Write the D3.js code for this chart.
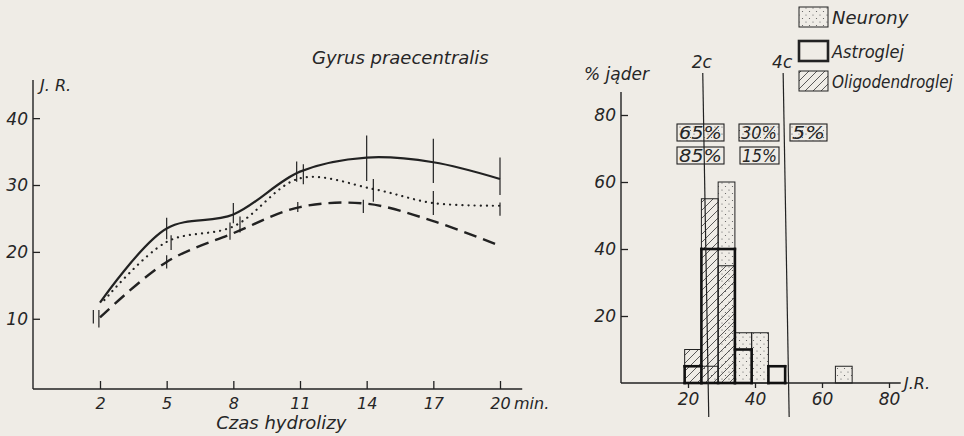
<!DOCTYPE html>
<html><head><meta charset="utf-8">
<script src="https://cdn.jsdelivr.net/npm/d3@7"></script>
<style>
html,body{margin:0;padding:0;background:#efece6;}
svg{display:block;}
text{font-family:"DejaVu Sans",sans-serif;font-style:italic;fill:#262626;}
</style></head>
<body>
<script>
// ---------- DATA ----------
const timeTicks = [2, 5, 8, 11, 14, 17, 20];
const jrTicksLeft = [10, 20, 30, 40];

const solidTime = [2, 5, 8, 11, 14, 17, 20];
const solidJR   = [12.4, 23.5, 25.6, 32.0, 34.1, 33.4, 30.9];
const dottedTime = [2.2, 5, 8, 11, 14.3, 17, 20];
const dottedJR   = [12.8, 21.5, 23.8, 31.0, 29.4, 27.3, 26.9];
const dashedTime = [2, 5, 8, 11, 14, 17, 20];
const dashedJR   = [10.2, 18.5, 22.8, 26.7, 27.2, 24.6, 20.9];

const solidErrTime = [5, 8, 10.85, 14, 17, 20];
const solidErrMid  = [23.5, 25.8, 32.0, 34.0, 33.6, 31.3];
const solidErrHalf = [1.6, 1.5, 1.5, 3.4, 3.3, 2.8];
const dottedErrTime = [1.7, 5.2, 8.3, 11.15, 14.3, 17, 20];
const dottedErrMid  = [10.3, 21.4, 24.1, 31.6, 29.2, 27.3, 26.4];
const dottedErrHalf = [1.0, 1.1, 1.2, 1.5, 1.7, 1.8, 1.0];
const dashedErrTime = [1.95, 5, 7.85, 10.9, 13.85];
const dashedErrMid  = [10.0, 18.5, 23.1, 26.7, 26.8];
const dashedErrHalf = [1.3, 1.0, 1.3, 0.75, 1.0];

// histogram (right panel)
const binStart = [19, 24, 29, 34, 39, 44, 49, 54, 59, 64];
const binWidth = 5;
const neurony = [0, 5, 60, 15, 15, 0, 0, 0, 0, 5];
const astroglej = [5, 40, 40, 10, 0, 5, 0, 0, 0, 0];
const oligo = [10, 55, 35, 0, 0, 0, 0, 0, 0, 0];
const jrTicksRight = [20, 40, 60, 80];
const pctTicks = [20, 40, 60, 80];
const ploidyLabels = ["2c", "4c"];
const ploidyJR = [25.3, 49.3];
const neuronPct = ["65%", "30%", "5%"];
const gliaPct = ["85%", "15%"];
const legendLabels = ["Neurony", "Astroglej", "Oligodendroglej"];

// ---------- LAYOUT ----------
const W = 964, H = 436;
const svg = d3.select("body").append("svg").attr("width", W).attr("height", H);
const ink = "#222";

const defs = svg.append("defs");
const dots = defs.append("pattern").attr("id", "dots").attr("patternUnits", "userSpaceOnUse")
  .attr("width", 7).attr("height", 7);
[[1,1],[4.5,4.5]].forEach(([cx,cy])=>{
  dots.append("circle").attr("cx",cx).attr("cy",cy).attr("r",0.6).attr("fill","#555");
});
const hatch = defs.append("pattern").attr("id", "hatch").attr("patternUnits", "userSpaceOnUse")
  .attr("width", 8).attr("height", 8);
hatch.append("path").attr("d", "M-2,2 L2,-2 M0,8 L8,0 M6,10 L10,6").attr("stroke", "#333").attr("stroke-width", 0.8);

// ---- Left panel ----
const x = d3.scaleLinear().domain([2, 20]).range([100, 500]);
const y = d3.scaleLinear().domain([-0.5, 45.7]).range([389, 80]);
const L = svg.append("g");

L.append("line").attr("x1", 33).attr("x2", 33).attr("y1", y(45.7)).attr("y2", y(-0.5)).attr("stroke", ink).attr("stroke-width", 1.4);
L.append("line").attr("x1", 33).attr("x2", x(21)).attr("y1", y(-0.5)).attr("y2", y(-0.5)).attr("stroke", ink).attr("stroke-width", 1.4);

const yAx = d3.axisRight(y).tickValues(jrTicksLeft).tickSize(7).tickFormat(d3.format("d"));
const gy = L.append("g").attr("transform", "translate(33,0)").call(yAx);
gy.select(".domain").remove();
gy.selectAll(".tick line").attr("stroke", ink).attr("stroke-width", 1.3);
gy.selectAll(".tick text").attr("x", -5).attr("text-anchor", "end").attr("font-size", 17).attr("dy", "0.35em");

const xAx = d3.axisTop(x).tickValues(timeTicks).tickSize(8).tickFormat(d3.format("d"));
const gx = L.append("g").attr("transform", `translate(0,${y(-0.5)})`).call(xAx);
gx.select(".domain").remove();
gx.selectAll(".tick line").attr("stroke", ink).attr("stroke-width", 1.3);
gx.selectAll(".tick text").attr("y", 20).attr("font-size", 16).attr("dy", "0");

L.append("text").attr("x", 40).attr("y", 91).attr("font-size", 16).text("J. R.");
L.append("text").attr("x", x(20) + 14).attr("y", 409).attr("font-size", 16).text("min.");
L.append("text").attr("x", x(8) + 48).attr("y", 429).attr("text-anchor", "middle").attr("font-size", 18).text("Czas hydrolizy");
L.append("text").attr("x", 312).attr("y", 64).attr("font-size", 18).text("Gyrus  praecentralis");

const line = d3.line().x(d => x(d[0])).y(d => y(d[1])).curve(d3.curveCatmullRom.alpha(0.5));
const zip = (a, b) => a.map((v, i) => [v, b[i]]);
L.append("path").attr("d", line(zip(solidTime, solidJR))).attr("fill", "none").attr("stroke", ink).attr("stroke-width", 2.2);
L.append("path").attr("d", line(zip(dottedTime, dottedJR))).attr("fill", "none").attr("stroke", ink)
  .attr("stroke-width", 2.2).attr("stroke-linecap", "round").attr("stroke-dasharray", "0.1,6");
L.append("path").attr("d", line(zip(dashedTime, dashedJR))).attr("fill", "none").attr("stroke", ink)
  .attr("stroke-width", 2.4).attr("stroke-dasharray", "13,7");

function errBars(t, m, h) {
  L.append("g").selectAll("line").data(t.map((v, i) => ({ t: v, m: m[i], h: h[i] }))).join("line")
    .attr("x1", d => x(d.t)).attr("x2", d => x(d.t))
    .attr("y1", d => y(d.m - d.h)).attr("y2", d => y(d.m + d.h))
    .attr("stroke", ink).attr("stroke-width", 1.2);
}
errBars(solidErrTime, solidErrMid, solidErrHalf);
errBars(dottedErrTime, dottedErrMid, dottedErrHalf);
errBars(dashedErrTime, dashedErrMid, dashedErrHalf);

// ---- Right panel ----
const xr = d3.scaleLinear().domain([0, 80]).range([621, 889]);
const yr = d3.scaleLinear().domain([0, 80]).range([383, 115]);
const R = svg.append("g");

R.append("line").attr("x1", 621).attr("x2", 621).attr("y1", 92).attr("y2", yr(0)).attr("stroke", ink).attr("stroke-width", 1.4);
R.append("line").attr("x1", 621).attr("x2", xr(83.5)).attr("y1", yr(0)).attr("y2", yr(0)).attr("stroke", ink).attr("stroke-width", 1.4);

const yrAx = d3.axisRight(yr).tickValues(pctTicks).tickSize(7).tickFormat(d3.format("d"));
const gyr = R.append("g").attr("transform", "translate(621,0)").call(yrAx);
gyr.select(".domain").remove();
gyr.selectAll(".tick line").attr("stroke", ink).attr("stroke-width", 1.3);
gyr.selectAll(".tick text").attr("x", -5).attr("text-anchor", "end").attr("font-size", 17).attr("dy", "0.35em");

const xrAx = d3.axisBottom(xr).tickValues(jrTicksRight).tickSize(5).tickFormat(d3.format("d"));
const gxr = R.append("g").attr("transform", `translate(0,${yr(0)})`).call(xrAx);
gxr.select(".domain").remove();
gxr.selectAll(".tick line").attr("stroke", ink).attr("stroke-width", 1.3);
gxr.selectAll(".tick text").attr("y", 10).attr("font-size", 17).attr("dy", "0.71em");

R.append("text").attr("x", xr(84.5)).attr("y", yr(0) + 6).attr("font-size", 16).text("J.R.");
R.append("text").attr("x", 584).attr("y", 80).attr("font-size", 17).text("% jąder");

// bars
const bins = binStart.map((s, i) => ({ s, n: neurony[i], a: astroglej[i], o: oligo[i] }));
R.append("g").selectAll("rect").data(bins.filter(d => d.n > 0)).join("rect")
  .attr("x", d => xr(d.s)).attr("width", d => xr(d.s + binWidth) - xr(d.s))
  .attr("y", d => yr(d.n)).attr("height", d => yr(0) - yr(d.n))
  .attr("fill", "url(#dots)").attr("stroke", ink).attr("stroke-width", 1);
R.append("g").selectAll("rect").data(bins.filter(d => d.o > 0)).join("rect")
  .attr("x", d => xr(d.s)).attr("width", d => xr(d.s + binWidth) - xr(d.s))
  .attr("y", d => yr(d.o)).attr("height", d => yr(0) - yr(d.o))
  .attr("fill", "url(#hatch)").attr("stroke", ink).attr("stroke-width", 1);

// astroglia: thick outline, shared edges of equal-height neighbours omitted
const AG = R.append("g").attr("stroke", "#111").attr("stroke-width", 2.6).attr("stroke-linecap", "square");
bins.forEach((d, i) => {
  if (d.a > 0) {
    AG.append("line").attr("x1", xr(d.s)).attr("x2", xr(d.s + binWidth)).attr("y1", yr(d.a)).attr("y2", yr(d.a));
    AG.append("line").attr("x1", xr(d.s)).attr("x2", xr(d.s + binWidth)).attr("y1", yr(0)).attr("y2", yr(0));
  }
  const prev = i > 0 ? bins[i - 1].a : 0;
  if (prev !== d.a) {
    AG.append("line").attr("x1", xr(d.s)).attr("x2", xr(d.s)).attr("y1", yr(0)).attr("y2", yr(Math.max(prev, d.a)));
  }
});

// ploidy lines
ploidyJR.forEach((v, i) => {
  R.append("line").attr("x1", xr(v) - 3).attr("x2", xr(v) + 3).attr("y1", 73).attr("y2", 417).attr("stroke", ink).attr("stroke-width", 1.2);
  R.append("text").attr("x", xr(v) - 4).attr("y", 68).attr("text-anchor", "middle").attr("font-size", 17).text(ploidyLabels[i]);
});

// percentage boxes
const box1X = [677, 739, 790], box1W = [47, 40, 37];
neuronPct.forEach((t, i) => {
  R.append("rect").attr("x", box1X[i]).attr("y", 124).attr("width", box1W[i]).attr("height", 17)
    .attr("fill", "url(#dots)").attr("stroke", ink).attr("stroke-width", 1.1);
  R.append("text").attr("x", box1X[i] + box1W[i] / 2).attr("y", 139).attr("text-anchor", "middle")
    .attr("font-size", 17).attr("textLength", box1W[i] - 4).attr("lengthAdjust", "spacingAndGlyphs").text(t);
});
const box2X = [677, 740], box2W = [47, 39];
gliaPct.forEach((t, i) => {
  R.append("rect").attr("x", box2X[i]).attr("y", 147).attr("width", box2W[i]).attr("height", 17)
    .attr("fill", "none").attr("stroke", ink).attr("stroke-width", 1.1);
  R.append("text").attr("x", box2X[i] + box2W[i] / 2).attr("y", 162).attr("text-anchor", "middle")
    .attr("font-size", 17).attr("textLength", box2W[i] - 4).attr("lengthAdjust", "spacingAndGlyphs").text(t);
});

// legend (text horizontally condensed to the reference widths)
const legY = [7, 41, 71];
const legFill = ["url(#dots)", "none", "url(#hatch)"];
const legStroke = [1, 2.6, 1];
const legW = [77, 72, 121];
legendLabels.forEach((t, i) => {
  svg.append("rect").attr("x", 799).attr("y", legY[i]).attr("width", 29).attr("height", 20)
    .attr("fill", legFill[i]).attr("stroke", ink).attr("stroke-width", legStroke[i]);
  const g = svg.append("g");
  const tx = g.append("text").attr("x", 0).attr("y", 0).attr("font-size", 18).text(t);
  const natural = tx.node().getComputedTextLength();
  const sx = Math.min(1, legW[i] / natural);
  g.attr("transform", `translate(832,${legY[i] + 17}) scale(${sx},1)`);
});
</script>
</body></html>
